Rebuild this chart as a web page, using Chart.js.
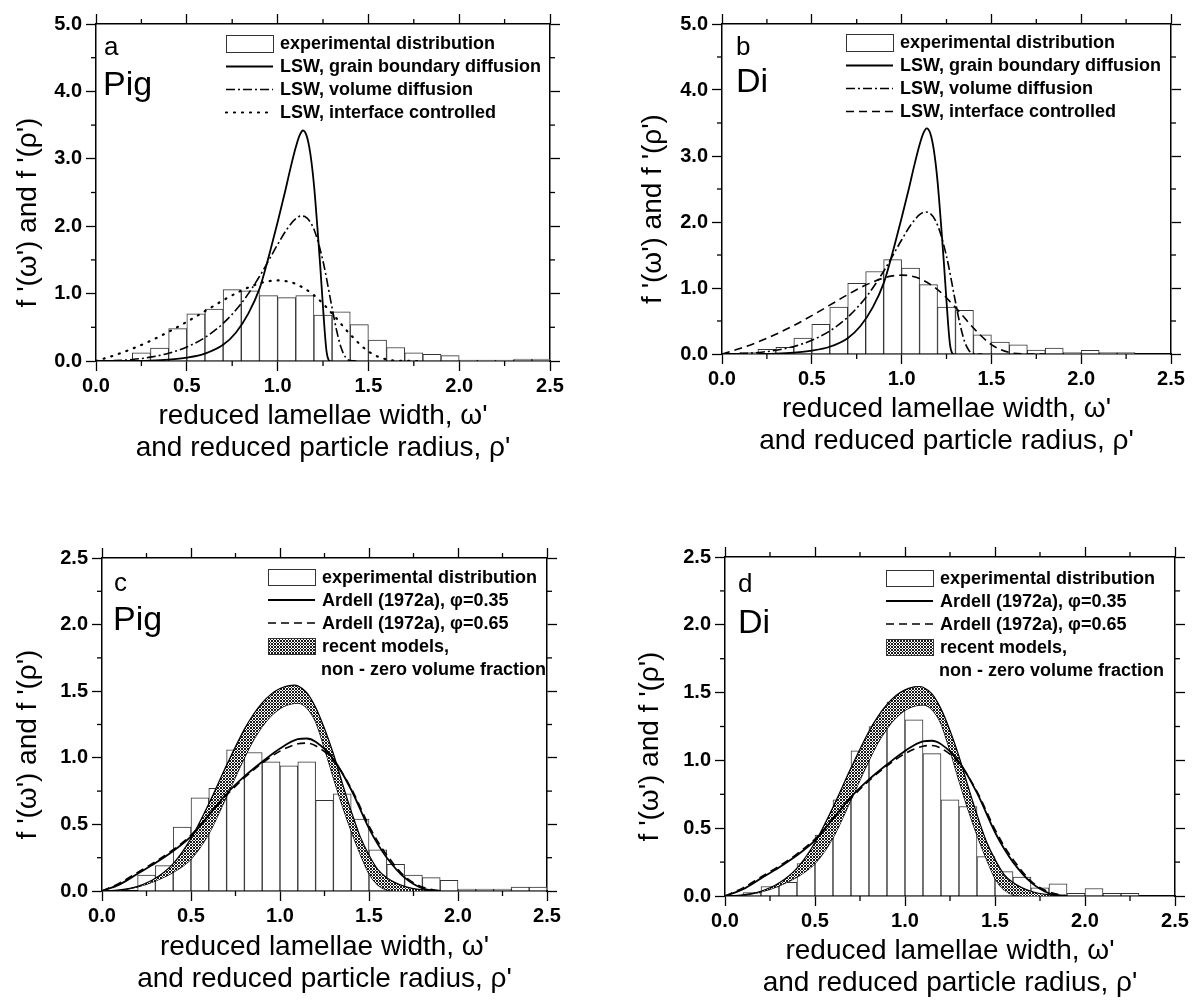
<!DOCTYPE html>
<html><head><meta charset="utf-8">
<script src="https://cdn.jsdelivr.net/npm/chart.js@4.4.1/dist/chart.umd.min.js"></script>
<style>
html,body{margin:0;padding:0;background:#fff;}
#wrap{position:relative;width:1192px;height:1002px;overflow:hidden;background:#fff;}
canvas{position:absolute;display:block;}
</style></head><body>
<div id="wrap">
<canvas id="ca" width="596" height="480" style="left:0;top:0"></canvas>
<canvas id="cb" width="596" height="480" style="left:596px;top:0"></canvas>
<canvas id="cc" width="596" height="522" style="left:0;top:480px"></canvas>
<canvas id="cd" width="596" height="522" style="left:596px;top:480px"></canvas>
</div>
<script>
// ---------------- DATA ----------------
const xTickValues = [0, 0.5, 1.0, 1.5, 2.0, 2.5];
const xMinorTicks = [0.25, 0.75, 1.25, 1.75, 2.25];
const yMinorTicksAB = [0.5, 1.5, 2.5, 3.5, 4.5];
const yMinorTicksCD = [0.25, 0.75, 1.25, 1.75, 2.25];

// histogram bin centres (bin width 0.1) and heights
const pigBinCenters = [0.25,0.35,0.45,0.55,0.65,0.75,0.85,0.95,1.05,1.15,1.25,1.35,1.45,1.55,1.65,1.75,1.85,1.95,2.05,2.15,2.25,2.35,2.45];
const pigValues     = [0.12,0.19,0.48,0.70,0.77,1.06,1.04,0.97,0.94,0.97,0.68,0.73,0.54,0.31,0.20,0.12,0.10,0.08,0.015,0.015,0.015,0.03,0.03];
const diBinCenters  = [0.15,0.25,0.35,0.45,0.55,0.65,0.75,0.85,0.95,1.05,1.15,1.25,1.35,1.45,1.55,1.65,1.75,1.85,1.95,2.05,2.15,2.25];
const diValues      = [0.025,0.07,0.10,0.24,0.45,0.71,1.07,1.25,1.43,1.30,1.05,0.71,0.66,0.29,0.18,0.14,0.06,0.09,0.02,0.055,0.02,0.02];

// LSW, grain boundary diffusion
const lswGbX = [0.2,0.3,0.4,0.5,0.6,0.7,0.77,0.84,0.9,0.93,0.96,1.0,1.04,1.07,1.1,1.12,1.14,1.16,1.18,1.2,1.22,1.235,1.25,1.26,1.27,1.28,1.29];
const lswGbY = [0,0.005,0.02,0.05,0.11,0.24,0.42,0.71,1.07,1.34,1.64,2.06,2.50,2.85,3.17,3.34,3.42,3.34,3.08,2.62,1.95,1.40,0.80,0.42,0.13,0.02,0];
// LSW, volume diffusion
const lswVolX = [0,0.1,0.2,0.3,0.4,0.5,0.6,0.7,0.8,0.9,1.0,1.05,1.1,1.13,1.15,1.2,1.25,1.3,1.325,1.35,1.375,1.4,1.45];
const lswVolY = [0,0.005,0.022,0.057,0.115,0.208,0.349,0.558,0.854,1.253,1.727,1.950,2.111,2.151,2.143,1.954,1.481,0.788,0.452,0.195,0.053,0.006,0];
// LSW, interface controlled
const lswIcX = [0,0.1,0.2,0.3,0.4,0.5,0.6,0.7,0.8,0.9,0.95,1.0,1.05,1.1,1.2,1.3,1.4,1.5,1.6,1.7,1.8];
const lswIcY = [0,0.083,0.182,0.299,0.433,0.581,0.740,0.900,1.044,1.152,1.184,1.195,1.183,1.143,0.977,0.706,0.394,0.142,0.023,0.001,0];

// Ardell (1972a)
const ardellX    = [0,0.1,0.2,0.3,0.4,0.5,0.6,0.7,0.8,0.9,1.0,1.1,1.15,1.2,1.3,1.4,1.5,1.55,1.6,1.7,1.8,1.9];
const ardell035Y = [0,0.05,0.13,0.21,0.30,0.41,0.57,0.73,0.86,0.97,1.07,1.14,1.145,1.12,0.99,0.76,0.47,0.35,0.25,0.10,0.02,0];
const ardell065Y = [0,0.06,0.14,0.22,0.31,0.42,0.57,0.72,0.85,0.96,1.05,1.105,1.11,1.09,0.98,0.77,0.49,0.37,0.27,0.11,0.03,0];

// recent models, non-zero volume fraction (band edges)
const bandX      = [0,0.1,0.2,0.3,0.4,0.5,0.6,0.7,0.8,0.85,0.9,0.95,1.0,1.05,1.08,1.1,1.15,1.2,1.25,1.3,1.35,1.4,1.45,1.5,1.55,1.6,1.7,1.8,1.9];
const bandUpperY = [0,0.008,0.035,0.095,0.205,0.395,0.655,0.945,1.215,1.325,1.413,1.478,1.52,1.542,1.545,1.540,1.49,1.38,1.22,1.03,0.81,0.60,0.41,0.27,0.16,0.10,0.035,0.008,0];
const bandLowerY = [0,0.005,0.03,0.075,0.14,0.24,0.43,0.71,1.0,1.13,1.235,1.315,1.37,1.40,1.408,1.41,1.375,1.27,1.07,0.85,0.64,0.45,0.28,0.13,0.045,0.01,0,0,0];

const xAxisTitle = ["reduced lamellae width, \u03c9'", "and reduced particle radius, \u03c1'"];
const yAxisTitle = "f '(\u03c9') and f '(\u03c1')";
const legendTextsAB = ['experimental distribution','LSW, grain boundary diffusion','LSW, volume diffusion','LSW, interface controlled'];
const legendTextsCD = ['experimental distribution','Ardell (1972a), \u03c6=0.35','Ardell (1972a), \u03c6=0.65','recent models,','non - zero volume fraction'];

// ---------------- STYLE / HELPERS ----------------
const F = "'Liberation Sans', Arial, Helvetica, sans-serif";
const STY = {
  solid:   {borderDash: [], borderWidth: 1.8},
  dashdot: {borderDash: [9,3,2,3], borderWidth: 1.6},
  dotted:  {borderDash: [1,7], borderWidth: 2.2, borderCapStyle: 'round'},
  dashed:  {borderDash: [8,5], borderWidth: 1.6},
  edge:    {borderDash: [], borderWidth: 1.2}
};
function pts(xs, ys){ return xs.map((x,i)=>({x:x, y:ys[i]})); }
function makeHatch(){
  const c = document.createElement('canvas'); c.width = 3; c.height = 3;
  const g = c.getContext('2d');
  g.fillStyle = '#fff'; g.fillRect(0,0,3,3);
  g.fillStyle = '#1a1a1a';
  for (let x=0;x<3;x++) for (let y=0;y<3;y++) if ((x+y)%3===0 || (x-y+3)%3===0) g.fillRect(x,y,1,1);
  return g.createPattern(c, 'repeat');
}
const HATCH = makeHatch();

function barDS(xs, ys){
  return {type:'bar', data: pts(xs, ys), backgroundColor:'#fff', borderColor:'#333', borderWidth:1,
          barPercentage:1, categoryPercentage:1, order:10};
}
function lineDS(xs, ys, sty, extra){
  return Object.assign({type:'line', data: pts(xs, ys), borderColor:'#000', pointRadius:0, pointHoverRadius:0,
          cubicInterpolationMode:'monotone', fill:false, order:1}, sty, extra||{});
}

function decoPlugin(P){
  return {
    id: 'deco',
    afterDraw(chart){
      const ctx = chart.ctx, a = chart.chartArea, xs = chart.scales.x, ys = chart.scales.y;
      ctx.save();
      ctx.strokeStyle = '#000'; ctx.lineWidth = 1.3; ctx.setLineDash([]);
      const seg = (x1,y1,x2,y2)=>{ctx.beginPath(); ctx.moveTo(x1,y1); ctx.lineTo(x2,y2); ctx.stroke();};
      xMinorTicks.forEach(v=>{ const px = xs.getPixelForValue(v); seg(px,a.bottom,px,a.bottom+5); seg(px,a.top,px,a.top-5); });
      P.yMinor.forEach(v=>{ const py = ys.getPixelForValue(v); seg(a.left,py,a.left-5,py); seg(a.right,py,a.right+5,py); });
      // y axis title (rotated)
      ctx.save();
      ctx.translate(P.yTitleX, (a.top + a.bottom)/2 + 20);
      ctx.rotate(-Math.PI/2);
      ctx.fillStyle = '#000'; ctx.font = '28px ' + F; ctx.textAlign = 'center'; ctx.textBaseline = 'middle';
      ctx.fillText(yAxisTitle, 0, 0);
      ctx.restore();
      // panel letter and sample name
      ctx.fillStyle = '#000'; ctx.textBaseline = 'alphabetic'; ctx.textAlign = 'left';
      ctx.font = '26px ' + F; ctx.fillText(P.letter, P.letterPos[0], P.letterPos[1]);
      ctx.font = '34px ' + F; ctx.fillText(P.name, P.namePos[0], P.namePos[1]);
      // legend
      const L = P.legend;
      ctx.textBaseline = 'middle';
      L.rows.forEach((r,i)=>{
        const cy = L.y + L.boxH/2 + i*L.dy;
        if (r.kind === 'box' || r.kind === 'hatch'){
          ctx.fillStyle = r.kind === 'box' ? '#fff' : HATCH;
          ctx.fillRect(L.x, cy-L.boxH/2, L.boxW, L.boxH);
          ctx.strokeStyle = '#333'; ctx.lineWidth = 1; ctx.setLineDash([]);
          ctx.strokeRect(L.x+0.5, cy-L.boxH/2+0.5, L.boxW, L.boxH);
        } else if (r.kind === 'line'){
          ctx.strokeStyle = '#000'; ctx.lineWidth = r.sty.borderWidth; ctx.setLineDash(r.sty.borderDash);
          ctx.lineCap = r.sty.borderCapStyle || 'butt';
          ctx.beginPath(); ctx.moveTo(L.x, cy); ctx.lineTo(L.x+L.boxW, cy); ctx.stroke();
          ctx.setLineDash([]); ctx.lineCap = 'butt';
        }
        ctx.fillStyle = '#000'; ctx.font = 'bold 18px ' + F;
        ctx.fillText(r.text, L.x + L.boxW + 7 + (r.kind==='none' ? -1 : 0), cy + 1);
      });
      ctx.restore();
    }
  };
}

function axisGrid(){ return {display:true, drawOnChartArea:false, drawTicks:true, tickLength:10, tickColor:'#000', tickWidth:1.3, offset:false}; }
function axisBorder(){ return {display:true, color:'#000', width:1.5}; }

function makePanel(id, P){
  const cv = document.getElementById(id);
  const W = cv.width, H = cv.height;
  new Chart(cv, {
    type: 'bar',
    data: {datasets: P.datasets},
    options: {
      responsive:false, animation:false, devicePixelRatio:1,
      layout:{padding:0},
      plugins:{legend:{display:false}, tooltip:{enabled:false}, filler:{propagate:false}},
      scales:{
        x:{type:'linear', position:'bottom', min:0, max:2.5, offset:false,
           afterBuildTicks(s){ s.ticks = xTickValues.map(v=>({value:v})); },
           ticks:{color:'#000', font:{family:F, size:20, weight:'bold'}, padding:3, maxRotation:0, autoSkip:false,
                  callback:v=>Number(v).toFixed(1)},
           grid:axisGrid(), border:axisBorder(),
           title:{display:true, text:xAxisTitle, color:'#000', font:{family:F, size:28, lineHeight:1.17}, padding:{top:0, bottom:P.xTitlePB}},
           afterFit(s){ s.height = H - P.B; }},
        x2:{type:'linear', position:'top', min:0, max:2.5, offset:false,
           afterBuildTicks(s){ s.ticks = xTickValues.map(v=>({value:v})); },
           ticks:{display:false}, grid:axisGrid(), border:axisBorder(),
           afterFit(s){ s.height = P.T; }},
        y:{type:'linear', position:'left', min:0, max:P.yMax,
           ticks:{stepSize:P.yStep, color:'#000', font:{family:F, size:20, weight:'bold'}, padding:4,
                  callback:v=>Number(v).toFixed(1)},
           grid:axisGrid(), border:axisBorder(),
           afterFit(s){ s.width = P.L; }},
        y2:{type:'linear', position:'right', min:0, max:P.yMax,
           ticks:{display:false, stepSize:P.yStep}, grid:axisGrid(), border:axisBorder(),
           afterFit(s){ s.width = W - P.R; }}
      }
    },
    plugins:[decoPlugin(P)]
  });
}

function lsWDatasets(binC, vals, icStyle){
  return [
    barDS(binC, vals),
    lineDS(lswGbX, lswGbY, STY.solid),
    lineDS(lswVolX, lswVolY, STY.dashdot),
    lineDS(lswIcX, lswIcY, icStyle)
  ];
}
function ardellDatasets(binC, vals){
  return [
    barDS(binC, vals),
    lineDS(bandX, bandUpperY, STY.edge, {fill:{target:2, above:HATCH, below:HATCH}, backgroundColor:HATCH, order:2}),
    lineDS(bandX, bandLowerY, STY.edge, {order:2}),
    lineDS(ardellX, ardell035Y, STY.solid),
    lineDS(ardellX, ardell065Y, STY.dashed)
  ];
}
function legendAB(x, y, third){
  return {x:x, y:y, dy:23, boxW:47, boxH:17, rows:[
    {kind:'box', text:legendTextsAB[0]},
    {kind:'line', sty:STY.solid, text:legendTextsAB[1]},
    {kind:'line', sty:STY.dashdot, text:legendTextsAB[2]},
    {kind:'line', sty:third, text:legendTextsAB[3]}
  ]};
}
function legendCD(x, y){
  return {x:x, y:y, dy:23, boxW:47, boxH:16, rows:[
    {kind:'box', text:legendTextsCD[0]},
    {kind:'line', sty:STY.solid, text:legendTextsCD[1]},
    {kind:'line', sty:STY.dashed, text:legendTextsCD[2]},
    {kind:'hatch', text:legendTextsCD[3]},
    {kind:'none', text:legendTextsCD[4]}
  ]};
}

// panel a
makePanel('ca', {L:96, R:550, T:24, B:361, yMax:5, yStep:1, yMinor:yMinorTicksAB, yTitleX:28, xTitlePB:15,
  datasets: lsWDatasets(pigBinCenters, pigValues, STY.dotted),
  letter:'a', letterPos:[104,55], name:'Pig', namePos:[103,95],
  legend: legendAB(226, 35, STY.dotted)});
// panel b
makePanel('cb', {L:126, R:575, T:24, B:354, yMax:5, yStep:1, yMinor:yMinorTicksAB, yTitleX:57, xTitlePB:22,
  datasets: lsWDatasets(diBinCenters, diValues, STY.dashed),
  letter:'b', letterPos:[140,55], name:'Di', namePos:[140,92],
  legend: legendAB(250, 34, STY.dashed)});
// panel c
makePanel('cc', {L:102, R:547, T:78, B:411, yMax:2.5, yStep:0.5, yMinor:yMinorTicksCD, yTitleX:28, xTitlePB:6,
  datasets: ardellDatasets(pigBinCenters, pigValues),
  letter:'c', letterPos:[114,111], name:'Pig', namePos:[113,150],
  legend: legendCD(268, 89)});
// panel d
makePanel('cd', {L:129, R:579, T:77, B:416, yMax:2.5, yStep:0.5, yMinor:yMinorTicksCD, yTitleX:54, xTitlePB:2,
  datasets: ardellDatasets(diBinCenters, diValues),
  letter:'d', letterPos:[142,112], name:'Di', namePos:[142,153],
  legend: legendCD(290, 90)});
</script>
</body></html>
